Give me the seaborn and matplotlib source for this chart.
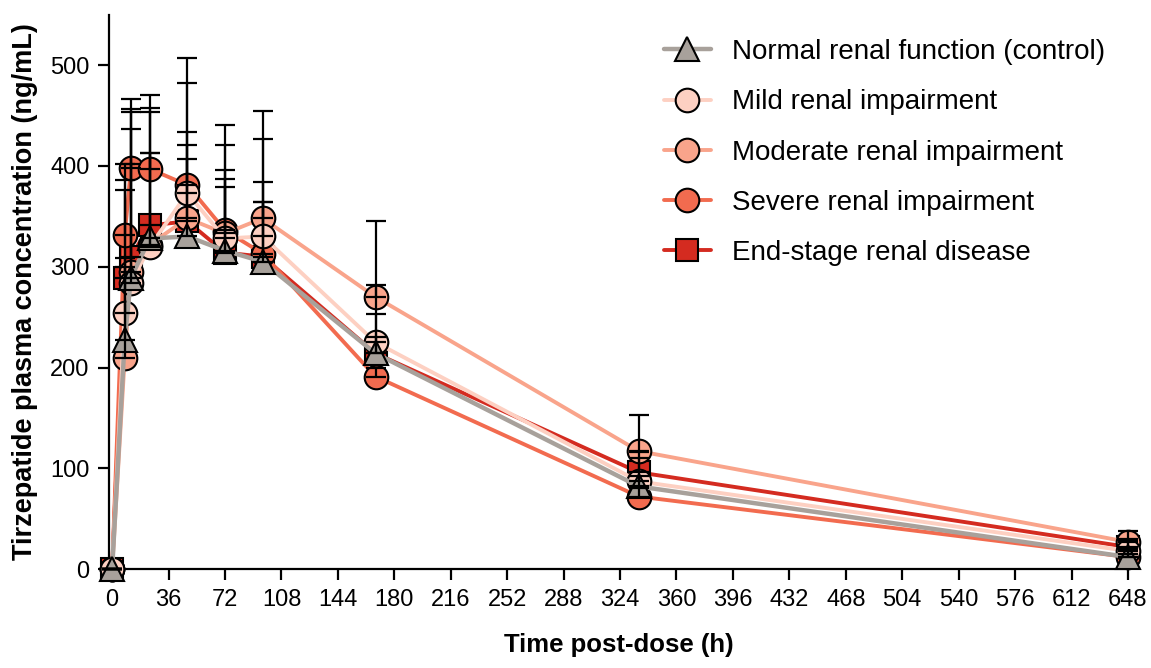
import numpy as np
import matplotlib
matplotlib.use('Agg')
import matplotlib.pyplot as plt
import seaborn as sns

# Dados (média e DP superior)
tempo = [0, 8, 12, 24, 48, 72, 96, 168, 336, 648]

normal_media = [0, 227, 289, 328, 330, 316, 305, 214, 82, 12]
normal_dp = [0, 73, 113, 85, 77, 63, 59, 39, 10, 8]

leve_media = [0, 254, 284, 320, 373, 328, 330, 225, 87, 18]
leve_dp = [0, 122, 172, 133, 134, 68, 97, 57, 23, 12]

moderada_media = [0, 209, 295, 322, 348, 333, 348, 270, 117, 27]
moderada_dp = [0, 177, 142, 91, 86, 88, 106, 75, 36, 11]

grave_media = [0, 331, 398, 397, 381, 336, 313, 191, 72, 12]
grave_dp = [0, 71, 68, 73, 101, 105, 71, 9, 8, 3]

esrd_media = [0, 289, 310, 341, 345, 314, 310, 214, 96, 22]
esrd_dp = [0, 20, 143, 116, 76, 73, 54, 16, 20, 6]

grupos = ['Normal renal function (control)', 'Mild renal impairment',
          'Moderate renal impairment', 'Severe renal impairment',
          'End-stage renal disease']
cores = ['#a8a19b', '#fdd0c2', '#f9a48b', '#f26b4f', '#d42b20']
marcadores = ['^', 'o', 'o', 'o', 's']
espessuras = [3.2, 2.8, 2.8, 2.8, 2.8]
medias = [normal_media, leve_media, moderada_media, grave_media, esrd_media]
dps = [normal_dp, leve_dp, moderada_dp, grave_dp, esrd_dp]

sns.set_style('ticks')
plt.rcParams['font.family'] = ['Liberation Sans', 'DejaVu Sans']
plt.rcParams['text.color'] = 'black'
plt.rcParams['axes.labelcolor'] = 'black'
plt.rcParams['xtick.color'] = 'black'
plt.rcParams['ytick.color'] = 'black'
plt.rcParams['axes.edgecolor'] = 'black'

fig = plt.figure(figsize=(11.51, 6.68), dpi=100)
ax = fig.add_axes([0.0947, 0.148, 0.8853, 0.830])

# desenha do último (ESRD) para o primeiro, para o controle ficar por cima
handles = {}
for i in reversed(range(len(grupos))):
    sns.lineplot(x=tempo, y=medias[i], ax=ax, color=cores[i], lw=espessuras[i],
                 marker=marcadores[i], ms=17 if marcadores[i] != 's' else 15.5,
                 mfc=cores[i], mec='black', mew=1.5, clip_on=False,
                 zorder=3 + (len(grupos) - i), label=grupos[i])
    handles[i] = ax.lines[-1]

# barras de erro (somente superior), por cima dos marcadores
for i in range(len(grupos)):
    ax.errorbar(tempo, medias[i], yerr=[np.zeros(len(tempo)), dps[i]], fmt='none',
                ecolor='black', elinewidth=1.6, capsize=7.5, capthick=1.6,
                zorder=20, clip_on=False)

ax.set_xlim(-2, 648)
ax.set_ylim(0, 550)
ax.set_xticks(np.arange(0, 649, 36))
ax.set_yticks(np.arange(0, 501, 100))
ax.tick_params(axis='both', direction='out', length=8, width=1.6, labelsize=17, pad=6)
sns.despine(ax=ax)
for s in ['left', 'bottom']:
    ax.spines[s].set_linewidth(1.6)

ax.set_xlabel('Time post-dose (h)', fontsize=18.5, fontweight='bold', labelpad=16)
ax.set_ylabel('Tirzepatide plasma concentration (ng/mL)', fontsize=19.5,
              fontweight='bold', labelpad=9)

leg = ax.legend([handles[i] for i in range(len(grupos))], grupos,
                loc='upper left', bbox_to_anchor=(0.567, 0.958),
                bbox_transform=fig.transFigure, frameon=False, fontsize=20,
                handlelength=1.7, handletextpad=0.75, labelspacing=0.87,
                borderaxespad=0)

fig.savefig('out.png', dpi=100)
